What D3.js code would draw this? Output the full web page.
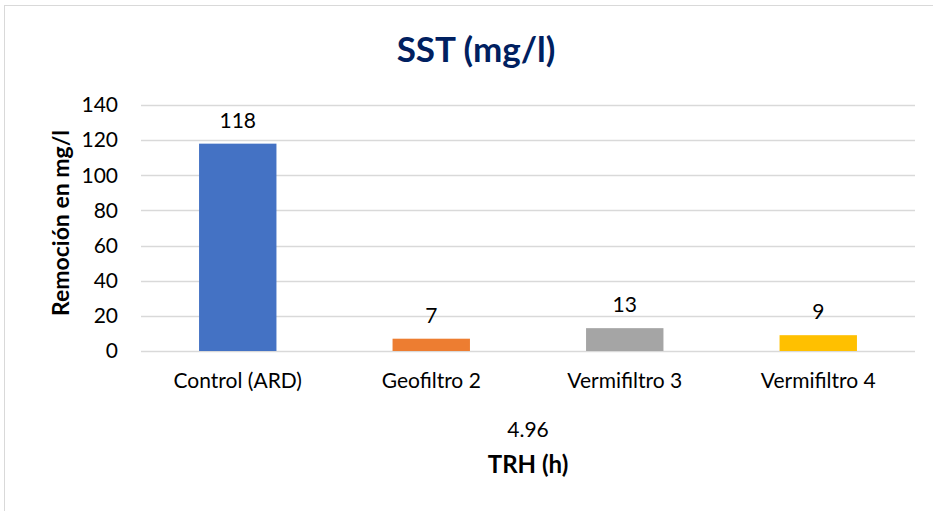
<!DOCTYPE html>
<html>
<head>
<meta charset="utf-8">
<script src="https://cdn.jsdelivr.net/npm/d3@7"></script>
<style>
  body { margin: 0; background: #fff; }
  svg { display: block; font-family: Lato, "Open Sans", sans-serif; }
</style>
</head>
<body>
<div id="wrapper"></div>
<script>
// data
const categories = ["Control (ARD)", "Geofiltro 2", "Vermifiltro 3", "Vermifiltro 4"];
const values = [118, 7, 13, 9];
const colors = ["#4472C4", "#ED7D31", "#A5A5A5", "#FFC000"];
const yTicks = [0, 20, 40, 60, 80, 100, 120, 140];
const groupLabel = "4.96";

const dimensions = {
  width: 933,
  height: 511,
  margin: { top: 105, right: 18, bottom: 160, left: 141 },
};
dimensions.boundedWidth = dimensions.width - dimensions.margin.left - dimensions.margin.right;
dimensions.boundedHeight = dimensions.height - dimensions.margin.top - dimensions.margin.bottom;

const wrapper = d3.select("#wrapper")
  .append("svg")
  .attr("width", dimensions.width)
  .attr("height", dimensions.height);

// chart frame
wrapper.append("rect")
  .attr("x", 4.5).attr("y", 5.5)
  .attr("width", 940).attr("height", 520)
  .attr("fill", "none")
  .attr("stroke", "#d9d9d9");

const bounds = wrapper.append("g")
  .attr("transform", `translate(${dimensions.margin.left},${dimensions.margin.top})`);

const xScale = d3.scaleBand()
  .domain(categories)
  .range([0, dimensions.boundedWidth]);

const yScale = d3.scaleLinear()
  .domain([0, 140])
  .range([dimensions.boundedHeight, 0]);

// gridlines
bounds.append("g")
  .selectAll("line")
  .data(yTicks)
  .enter().append("line")
    .attr("x1", 0)
    .attr("x2", dimensions.boundedWidth)
    .attr("y1", d => Math.round(yScale(d)) + 0.5)
    .attr("y2", d => Math.round(yScale(d)) + 0.5)
    .attr("stroke", "#d9d9d9")
    .attr("stroke-width", 1.3);

// bars
const barWidth = xScale.bandwidth() * 0.4;
bounds.selectAll("rect.bar")
  .data(values)
  .enter().append("rect")
    .attr("class", "bar")
    .attr("x", (d, i) => xScale(categories[i]) + (xScale.bandwidth() - barWidth) / 2)
    .attr("y", d => yScale(d))
    .attr("width", barWidth)
    .attr("height", d => yScale(0) - yScale(d))
    .attr("fill", (d, i) => colors[i]);

// data labels
bounds.selectAll("text.val")
  .data(values)
  .enter().append("text")
    .attr("class", "val")
    .attr("x", (d, i) => xScale(categories[i]) + xScale.bandwidth() / 2)
    .attr("y", d => yScale(d) - 16)
    .attr("text-anchor", "middle")
    .attr("font-size", 21)
    .attr("fill", "#000")
    .text(d => d);

// y axis
const yAxis = bounds.append("g")
  .call(d3.axisLeft(yScale).tickValues(yTicks).tickSize(0).tickPadding(23));
yAxis.select(".domain").remove();
yAxis.selectAll("text")
  .attr("font-size", 21)
  .attr("font-family", "Lato, 'Open Sans', sans-serif")
  .attr("fill", "#000");

// x axis
const xAxis = bounds.append("g")
  .attr("transform", `translate(0,${dimensions.boundedHeight})`)
  .call(d3.axisBottom(xScale).tickSize(0).tickPadding(22));
xAxis.select(".domain").remove();
xAxis.selectAll("text")
  .attr("font-size", 21)
  .attr("font-family", "Lato, 'Open Sans', sans-serif")
  .attr("fill", "#000");

// group label
bounds.append("text")
  .attr("x", dimensions.boundedWidth / 2)
  .attr("y", dimensions.boundedHeight + 86)
  .attr("text-anchor", "middle")
  .attr("font-size", 21)
  .text(groupLabel);

// axis titles
bounds.append("text")
  .attr("x", dimensions.boundedWidth / 2)
  .attr("y", dimensions.boundedHeight + 122)
  .attr("text-anchor", "middle")
  .attr("font-size", 24)
  .attr("font-weight", "bold")
  .text("TRH (h)");

wrapper.append("text")
  .attr("transform", `translate(69,${dimensions.margin.top + dimensions.boundedHeight / 2 - 5}) rotate(-90)`)
  .attr("text-anchor", "middle")
  .attr("font-size", 23)
  .attr("font-weight", "bold")
  .text("Remoción en mg/l");

// title
wrapper.append("text")
  .attr("x", 476)
  .attr("y", 62)
  .attr("text-anchor", "middle")
  .attr("font-size", 35)
  .attr("font-weight", "bold")
  .attr("fill", "#002060")
  .text("SST (mg/l)");
</script>
</body>
</html>
